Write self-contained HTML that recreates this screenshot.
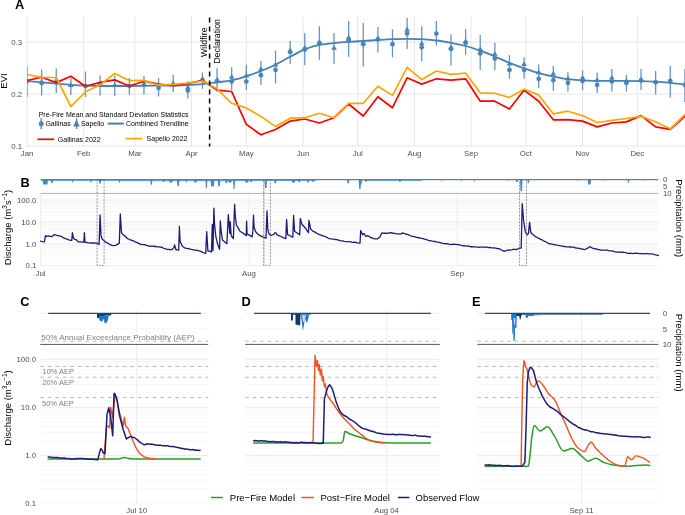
<!DOCTYPE html>
<html><head><meta charset="utf-8"><style>
html,body{margin:0;padding:0;background:#fff;}
svg{display:block;font-family:"Liberation Sans", sans-serif;will-change:transform;}
</style></head><body>
<svg width="685" height="515" viewBox="0 0 685 515">
<defs><clipPath id="clipA"><rect x="27" y="16" width="658" height="131"/></clipPath></defs>
<rect width="685" height="515" fill="#fff"/>
<line x1="27.00" y1="146.00" x2="685.00" y2="146.00" stroke="#e6e6e6" stroke-width="1.0" />
<line x1="27.00" y1="94.00" x2="685.00" y2="94.00" stroke="#e6e6e6" stroke-width="1.0" />
<line x1="27.00" y1="42.00" x2="685.00" y2="42.00" stroke="#e6e6e6" stroke-width="1.0" />
<line x1="27.10" y1="16.30" x2="27.10" y2="146.50" stroke="#e6e6e6" stroke-width="1.0" />
<line x1="83.74" y1="16.30" x2="83.74" y2="146.50" stroke="#e6e6e6" stroke-width="1.0" />
<line x1="134.89" y1="16.30" x2="134.89" y2="146.50" stroke="#e6e6e6" stroke-width="1.0" />
<line x1="191.53" y1="16.30" x2="191.53" y2="146.50" stroke="#e6e6e6" stroke-width="1.0" />
<line x1="246.34" y1="16.30" x2="246.34" y2="146.50" stroke="#e6e6e6" stroke-width="1.0" />
<line x1="302.98" y1="16.30" x2="302.98" y2="146.50" stroke="#e6e6e6" stroke-width="1.0" />
<line x1="357.79" y1="16.30" x2="357.79" y2="146.50" stroke="#e6e6e6" stroke-width="1.0" />
<line x1="414.42" y1="16.30" x2="414.42" y2="146.50" stroke="#e6e6e6" stroke-width="1.0" />
<line x1="471.06" y1="16.30" x2="471.06" y2="146.50" stroke="#e6e6e6" stroke-width="1.0" />
<line x1="525.87" y1="16.30" x2="525.87" y2="146.50" stroke="#e6e6e6" stroke-width="1.0" />
<line x1="582.51" y1="16.30" x2="582.51" y2="146.50" stroke="#e6e6e6" stroke-width="1.0" />
<line x1="637.32" y1="16.30" x2="637.32" y2="146.50" stroke="#e6e6e6" stroke-width="1.0" />
<text x="27.10" y="156.40" font-size="7.8" fill="#4d4d4d" text-anchor="middle" >Jan</text>
<text x="83.74" y="156.40" font-size="7.8" fill="#4d4d4d" text-anchor="middle" >Feb</text>
<text x="134.89" y="156.40" font-size="7.8" fill="#4d4d4d" text-anchor="middle" >Mar</text>
<text x="191.53" y="156.40" font-size="7.8" fill="#4d4d4d" text-anchor="middle" >Apr</text>
<text x="246.34" y="156.40" font-size="7.8" fill="#4d4d4d" text-anchor="middle" >May</text>
<text x="302.98" y="156.40" font-size="7.8" fill="#4d4d4d" text-anchor="middle" >Jun</text>
<text x="357.79" y="156.40" font-size="7.8" fill="#4d4d4d" text-anchor="middle" >Jul</text>
<text x="414.42" y="156.40" font-size="7.8" fill="#4d4d4d" text-anchor="middle" >Aug</text>
<text x="471.06" y="156.40" font-size="7.8" fill="#4d4d4d" text-anchor="middle" >Sep</text>
<text x="525.87" y="156.40" font-size="7.8" fill="#4d4d4d" text-anchor="middle" >Oct</text>
<text x="582.51" y="156.40" font-size="7.8" fill="#4d4d4d" text-anchor="middle" >Nov</text>
<text x="637.32" y="156.40" font-size="7.8" fill="#4d4d4d" text-anchor="middle" >Dec</text>
<text x="22.20" y="148.80" font-size="7.8" fill="#4d4d4d" text-anchor="end" >0.1</text>
<text x="22.20" y="96.80" font-size="7.8" fill="#4d4d4d" text-anchor="end" >0.2</text>
<text x="22.20" y="44.80" font-size="7.8" fill="#4d4d4d" text-anchor="end" >0.3</text>
<text x="6.70" y="81.00" font-size="9.6" fill="#000" text-anchor="middle" transform="rotate(-90 6.70 81.00)" >EVI</text>
<text x="14.90" y="8.90" font-size="12.8" fill="#000" text-anchor="start" font-weight="bold" >A</text>
<g clip-path="url(#clipA)">
<line x1="27.00" y1="66.00" x2="27.00" y2="97.00" stroke="#4a84b8" stroke-width="1.3" stroke-opacity="0.85"/>
<circle cx="27.00" cy="81.30" r="2.35" fill="#4a84b8"/>
<line x1="41.62" y1="69.50" x2="41.62" y2="95.50" stroke="#4a84b8" stroke-width="1.3" stroke-opacity="0.85"/>
<circle cx="41.62" cy="83.00" r="2.35" fill="#4a84b8"/>
<path d="M41.62,78.90 L44.52,83.50 L38.72,83.50 Z" fill="#4a84b8"/>
<line x1="56.24" y1="68.60" x2="56.24" y2="93.10" stroke="#4a84b8" stroke-width="1.3" stroke-opacity="0.85"/>
<path d="M56.24,77.80 L59.14,82.40 L53.34,82.40 Z" fill="#4a84b8"/>
<line x1="70.86" y1="78.30" x2="70.86" y2="95.00" stroke="#4a84b8" stroke-width="1.3" stroke-opacity="0.85"/>
<path d="M70.86,82.30 L73.76,86.90 L67.96,86.90 Z" fill="#4a84b8"/>
<line x1="85.48" y1="71.50" x2="85.48" y2="97.00" stroke="#4a84b8" stroke-width="1.3" stroke-opacity="0.85"/>
<circle cx="85.48" cy="86.00" r="2.35" fill="#4a84b8"/>
<line x1="100.10" y1="75.50" x2="100.10" y2="95.50" stroke="#4a84b8" stroke-width="1.3" stroke-opacity="0.85"/>
<circle cx="100.10" cy="84.40" r="2.35" fill="#4a84b8"/>
<line x1="114.72" y1="75.50" x2="114.72" y2="95.70" stroke="#4a84b8" stroke-width="1.3" stroke-opacity="0.85"/>
<path d="M114.72,82.30 L117.62,86.90 L111.82,86.90 Z" fill="#4a84b8"/>
<line x1="129.34" y1="78.10" x2="129.34" y2="94.40" stroke="#4a84b8" stroke-width="1.3" stroke-opacity="0.85"/>
<circle cx="129.34" cy="86.00" r="2.35" fill="#4a84b8"/>
<line x1="143.96" y1="76.00" x2="143.96" y2="94.40" stroke="#4a84b8" stroke-width="1.3" stroke-opacity="0.85"/>
<path d="M143.96,81.00 L146.86,85.60 L141.06,85.60 Z" fill="#4a84b8"/>
<line x1="158.58" y1="78.10" x2="158.58" y2="96.50" stroke="#4a84b8" stroke-width="1.3" stroke-opacity="0.85"/>
<circle cx="158.58" cy="87.80" r="2.35" fill="#4a84b8"/>
<line x1="173.20" y1="74.70" x2="173.20" y2="92.30" stroke="#4a84b8" stroke-width="1.3" stroke-opacity="0.85"/>
<path d="M173.20,80.50 L176.10,85.10 L170.30,85.10 Z" fill="#4a84b8"/>
<line x1="187.82" y1="81.20" x2="187.82" y2="98.60" stroke="#4a84b8" stroke-width="1.3" stroke-opacity="0.85"/>
<circle cx="187.82" cy="90.60" r="2.35" fill="#4a84b8"/>
<path d="M187.82,84.60 L190.72,89.20 L184.92,89.20 Z" fill="#4a84b8"/>
<line x1="202.44" y1="72.50" x2="202.44" y2="88.80" stroke="#4a84b8" stroke-width="1.3" stroke-opacity="0.85"/>
<path d="M202.44,75.90 L205.34,80.50 L199.54,80.50 Z" fill="#4a84b8"/>
<line x1="217.06" y1="68.30" x2="217.06" y2="91.50" stroke="#4a84b8" stroke-width="1.3" stroke-opacity="0.85"/>
<circle cx="217.06" cy="81.00" r="2.35" fill="#4a84b8"/>
<path d="M217.06,77.10 L219.96,81.70 L214.16,81.70 Z" fill="#4a84b8"/>
<line x1="231.68" y1="67.30" x2="231.68" y2="90.00" stroke="#4a84b8" stroke-width="1.3" stroke-opacity="0.85"/>
<circle cx="231.68" cy="81.50" r="2.35" fill="#4a84b8"/>
<path d="M231.68,74.10 L234.58,78.70 L228.78,78.70 Z" fill="#4a84b8"/>
<line x1="246.30" y1="64.70" x2="246.30" y2="90.00" stroke="#4a84b8" stroke-width="1.3" stroke-opacity="0.85"/>
<circle cx="246.30" cy="81.50" r="2.35" fill="#4a84b8"/>
<path d="M246.30,72.80 L249.20,77.40 L243.40,77.40 Z" fill="#4a84b8"/>
<line x1="260.92" y1="60.70" x2="260.92" y2="84.90" stroke="#4a84b8" stroke-width="1.3" stroke-opacity="0.85"/>
<circle cx="260.92" cy="75.20" r="2.35" fill="#4a84b8"/>
<path d="M260.92,66.20 L263.82,70.80 L258.02,70.80 Z" fill="#4a84b8"/>
<line x1="275.54" y1="50.70" x2="275.54" y2="83.60" stroke="#4a84b8" stroke-width="1.3" stroke-opacity="0.85"/>
<circle cx="275.54" cy="69.90" r="2.35" fill="#4a84b8"/>
<path d="M275.54,61.80 L278.44,66.40 L272.64,66.40 Z" fill="#4a84b8"/>
<line x1="290.16" y1="41.00" x2="290.16" y2="63.90" stroke="#4a84b8" stroke-width="1.3" stroke-opacity="0.85"/>
<circle cx="290.16" cy="52.00" r="2.35" fill="#4a84b8"/>
<path d="M290.16,47.80 L293.06,52.40 L287.26,52.40 Z" fill="#4a84b8"/>
<line x1="304.78" y1="33.10" x2="304.78" y2="65.20" stroke="#4a84b8" stroke-width="1.3" stroke-opacity="0.85"/>
<circle cx="304.78" cy="49.40" r="2.35" fill="#4a84b8"/>
<path d="M304.78,45.10 L307.68,49.70 L301.88,49.70 Z" fill="#4a84b8"/>
<line x1="319.40" y1="26.30" x2="319.40" y2="59.90" stroke="#4a84b8" stroke-width="1.3" stroke-opacity="0.85"/>
<circle cx="319.40" cy="43.60" r="2.35" fill="#4a84b8"/>
<path d="M319.40,39.10 L322.30,43.70 L316.50,43.70 Z" fill="#4a84b8"/>
<line x1="334.02" y1="33.10" x2="334.02" y2="63.90" stroke="#4a84b8" stroke-width="1.3" stroke-opacity="0.85"/>
<path d="M334.02,45.20 L336.92,49.80 L331.12,49.80 Z" fill="#4a84b8"/>
<line x1="348.64" y1="21.00" x2="348.64" y2="56.80" stroke="#4a84b8" stroke-width="1.3" stroke-opacity="0.85"/>
<circle cx="348.64" cy="40.20" r="2.35" fill="#4a84b8"/>
<path d="M348.64,34.70 L351.54,39.30 L345.74,39.30 Z" fill="#4a84b8"/>
<line x1="363.26" y1="23.10" x2="363.26" y2="66.50" stroke="#4a84b8" stroke-width="1.3" stroke-opacity="0.85"/>
<circle cx="363.26" cy="44.20" r="2.35" fill="#4a84b8"/>
<path d="M363.26,40.10 L366.16,44.70 L360.36,44.70 Z" fill="#4a84b8"/>
<line x1="377.88" y1="27.00" x2="377.88" y2="52.60" stroke="#4a84b8" stroke-width="1.3" stroke-opacity="0.85"/>
<circle cx="377.88" cy="39.50" r="2.35" fill="#4a84b8"/>
<path d="M377.88,35.50 L380.78,40.10 L374.98,40.10 Z" fill="#4a84b8"/>
<line x1="392.50" y1="29.20" x2="392.50" y2="57.30" stroke="#4a84b8" stroke-width="1.3" stroke-opacity="0.85"/>
<circle cx="392.50" cy="44.20" r="2.35" fill="#4a84b8"/>
<line x1="407.12" y1="17.90" x2="407.12" y2="48.90" stroke="#4a84b8" stroke-width="1.3" stroke-opacity="0.85"/>
<circle cx="407.12" cy="33.60" r="2.35" fill="#4a84b8"/>
<path d="M407.12,26.80 L410.02,31.40 L404.22,31.40 Z" fill="#4a84b8"/>
<line x1="421.74" y1="26.30" x2="421.74" y2="61.20" stroke="#4a84b8" stroke-width="1.3" stroke-opacity="0.85"/>
<circle cx="421.74" cy="47.30" r="2.35" fill="#4a84b8"/>
<path d="M421.74,40.70 L424.64,45.30 L418.84,45.30 Z" fill="#4a84b8"/>
<line x1="436.36" y1="21.00" x2="436.36" y2="45.50" stroke="#4a84b8" stroke-width="1.3" stroke-opacity="0.85"/>
<circle cx="436.36" cy="33.60" r="2.35" fill="#4a84b8"/>
<line x1="450.98" y1="34.20" x2="450.98" y2="65.70" stroke="#4a84b8" stroke-width="1.3" stroke-opacity="0.85"/>
<circle cx="450.98" cy="48.90" r="2.35" fill="#4a84b8"/>
<path d="M450.98,44.60 L453.88,49.20 L448.08,49.20 Z" fill="#4a84b8"/>
<line x1="465.60" y1="29.20" x2="465.60" y2="54.70" stroke="#4a84b8" stroke-width="1.3" stroke-opacity="0.85"/>
<circle cx="465.60" cy="42.80" r="2.35" fill="#4a84b8"/>
<path d="M465.60,38.60 L468.50,43.20 L462.70,43.20 Z" fill="#4a84b8"/>
<line x1="480.22" y1="35.00" x2="480.22" y2="69.90" stroke="#4a84b8" stroke-width="1.3" stroke-opacity="0.85"/>
<circle cx="480.22" cy="53.40" r="2.35" fill="#4a84b8"/>
<path d="M480.22,46.50 L483.12,51.10 L477.32,51.10 Z" fill="#4a84b8"/>
<line x1="494.84" y1="42.80" x2="494.84" y2="69.90" stroke="#4a84b8" stroke-width="1.3" stroke-opacity="0.85"/>
<circle cx="494.84" cy="58.60" r="2.35" fill="#4a84b8"/>
<path d="M494.84,51.20 L497.74,55.80 L491.94,55.80 Z" fill="#4a84b8"/>
<line x1="509.46" y1="55.20" x2="509.46" y2="78.80" stroke="#4a84b8" stroke-width="1.3" stroke-opacity="0.85"/>
<circle cx="509.46" cy="69.90" r="2.35" fill="#4a84b8"/>
<path d="M509.46,61.00 L512.36,65.60 L506.56,65.60 Z" fill="#4a84b8"/>
<line x1="524.08" y1="57.30" x2="524.08" y2="78.80" stroke="#4a84b8" stroke-width="1.3" stroke-opacity="0.85"/>
<circle cx="524.08" cy="69.90" r="2.35" fill="#4a84b8"/>
<path d="M524.08,61.50 L526.98,66.10 L521.18,66.10 Z" fill="#4a84b8"/>
<line x1="538.70" y1="64.40" x2="538.70" y2="88.00" stroke="#4a84b8" stroke-width="1.3" stroke-opacity="0.85"/>
<circle cx="538.70" cy="78.80" r="2.35" fill="#4a84b8"/>
<path d="M538.70,69.60 L541.60,74.20 L535.80,74.20 Z" fill="#4a84b8"/>
<line x1="553.32" y1="66.00" x2="553.32" y2="90.70" stroke="#4a84b8" stroke-width="1.3" stroke-opacity="0.85"/>
<circle cx="553.32" cy="80.20" r="2.35" fill="#4a84b8"/>
<path d="M553.32,70.90 L556.22,75.50 L550.42,75.50 Z" fill="#4a84b8"/>
<line x1="567.94" y1="72.30" x2="567.94" y2="91.50" stroke="#4a84b8" stroke-width="1.3" stroke-opacity="0.85"/>
<circle cx="567.94" cy="83.00" r="2.35" fill="#4a84b8"/>
<path d="M567.94,75.90 L570.84,80.50 L565.04,80.50 Z" fill="#4a84b8"/>
<line x1="582.56" y1="70.40" x2="582.56" y2="90.00" stroke="#4a84b8" stroke-width="1.3" stroke-opacity="0.85"/>
<circle cx="582.56" cy="80.90" r="2.35" fill="#4a84b8"/>
<path d="M582.56,74.90 L585.46,79.50 L579.66,79.50 Z" fill="#4a84b8"/>
<line x1="597.18" y1="72.50" x2="597.18" y2="92.80" stroke="#4a84b8" stroke-width="1.3" stroke-opacity="0.85"/>
<circle cx="597.18" cy="84.90" r="2.35" fill="#4a84b8"/>
<path d="M597.18,77.10 L600.08,81.70 L594.28,81.70 Z" fill="#4a84b8"/>
<line x1="611.80" y1="69.10" x2="611.80" y2="91.50" stroke="#4a84b8" stroke-width="1.3" stroke-opacity="0.85"/>
<circle cx="611.80" cy="81.50" r="2.35" fill="#4a84b8"/>
<path d="M611.80,74.90 L614.70,79.50 L608.90,79.50 Z" fill="#4a84b8"/>
<line x1="626.42" y1="74.90" x2="626.42" y2="91.50" stroke="#4a84b8" stroke-width="1.3" stroke-opacity="0.85"/>
<circle cx="626.42" cy="83.00" r="2.35" fill="#4a84b8"/>
<path d="M626.42,78.10 L629.32,82.70 L623.52,82.70 Z" fill="#4a84b8"/>
<line x1="641.04" y1="69.10" x2="641.04" y2="90.00" stroke="#4a84b8" stroke-width="1.3" stroke-opacity="0.85"/>
<circle cx="641.04" cy="80.40" r="2.35" fill="#4a84b8"/>
<path d="M641.04,76.70 L643.94,81.30 L638.14,81.30 Z" fill="#4a84b8"/>
<line x1="655.66" y1="71.00" x2="655.66" y2="94.60" stroke="#4a84b8" stroke-width="1.3" stroke-opacity="0.85"/>
<circle cx="655.66" cy="82.30" r="2.35" fill="#4a84b8"/>
<path d="M655.66,78.60 L658.56,83.20 L652.76,83.20 Z" fill="#4a84b8"/>
<line x1="670.28" y1="66.00" x2="670.28" y2="97.50" stroke="#4a84b8" stroke-width="1.3" stroke-opacity="0.85"/>
<circle cx="670.28" cy="80.90" r="2.35" fill="#4a84b8"/>
<line x1="684.90" y1="69.10" x2="684.90" y2="102.00" stroke="#4a84b8" stroke-width="1.3" stroke-opacity="0.85"/>
<circle cx="684.90" cy="84.90" r="2.35" fill="#4a84b8"/>
<path d="M27.00,80.90 C31.87,81.37 36.75,81.85 41.62,82.30 C46.49,82.75 51.37,83.18 56.24,83.60 C61.11,84.02 65.99,84.48 70.86,84.80 C75.73,85.12 80.61,85.42 85.48,85.60 C90.35,85.78 95.23,86.00 100.10,86.00 C104.97,86.00 109.85,86.00 114.72,86.00 C119.59,86.00 124.47,86.00 129.34,86.00 C134.21,86.00 139.09,85.87 143.96,85.80 C148.83,85.73 153.71,85.64 158.58,85.60 C163.45,85.56 168.33,85.56 173.20,85.50 C178.07,85.44 182.95,85.21 187.82,85.00 C192.69,84.79 197.57,84.50 202.44,84.10 C207.31,83.70 212.19,82.92 217.06,82.30 C221.93,81.68 226.81,81.27 231.68,80.40 C236.55,79.53 241.43,77.75 246.30,76.20 C251.17,74.65 256.05,72.90 260.92,71.00 C265.79,69.10 270.67,67.04 275.54,64.70 C280.41,62.36 285.29,59.35 290.16,56.80 C295.03,54.25 299.91,51.27 304.78,49.40 C309.65,47.53 314.53,45.76 319.40,44.90 C324.27,44.04 329.15,43.58 334.02,43.10 C338.89,42.62 343.77,42.24 348.64,41.90 C353.51,41.56 358.39,41.32 363.26,41.00 C368.13,40.68 373.01,40.30 377.88,40.00 C382.75,39.70 387.63,39.35 392.50,39.20 C397.37,39.05 402.25,38.90 407.12,38.90 C411.99,38.90 416.87,39.04 421.74,39.20 C426.61,39.36 431.49,39.95 436.36,40.50 C441.23,41.05 446.11,41.91 450.98,42.80 C455.85,43.69 460.73,44.73 465.60,46.00 C470.47,47.27 475.35,48.97 480.22,50.70 C485.09,52.43 489.97,54.47 494.84,56.50 C499.71,58.53 504.59,60.95 509.46,62.90 C514.33,64.85 519.21,66.61 524.08,68.30 C528.95,69.99 533.83,71.77 538.70,73.10 C543.57,74.43 548.45,75.52 553.32,76.50 C558.19,77.48 563.07,78.52 567.94,79.10 C572.81,79.68 577.69,80.16 582.56,80.40 C587.43,80.64 592.31,80.90 597.18,80.90 C602.05,80.90 606.93,80.90 611.80,80.90 C616.67,80.90 621.55,80.90 626.42,80.90 C631.29,80.90 636.17,81.08 641.04,81.20 C645.91,81.33 650.79,81.47 655.66,81.70 C660.53,81.93 665.41,82.37 670.28,82.80 C675.15,83.23 680.03,83.87 684.90,84.40" fill="none" stroke="#4682b4" stroke-width="1.8" stroke-linejoin="round" stroke-linecap="round" />
<polyline points="27.00,80.50 41.62,77.20 56.24,82.60 70.86,76.30 85.48,86.30 100.10,82.40 114.72,79.90 129.34,86.00 143.96,81.20 158.58,84.10 173.20,85.70 187.82,83.50 202.44,80.30 217.06,90.10 231.68,91.50 246.30,124.30 260.92,134.80 275.54,129.50 290.16,121.10 304.78,119.00 319.40,123.00 334.02,117.70 348.64,104.00 363.26,116.00 377.88,96.70 392.50,107.70 407.12,77.80 421.74,84.10 436.36,78.80 450.98,80.20 465.60,78.80 480.22,101.20 494.84,101.20 509.46,109.00 524.08,90.10 538.70,101.20 553.32,119.80 567.94,119.60 582.56,121.10 597.18,126.90 611.80,123.00 626.42,121.90 641.04,115.60 655.66,126.90 670.28,129.30 684.90,116.30" fill="none" stroke="#ff0000" stroke-width="1.7" stroke-linejoin="round" stroke-linecap="round" />
<polyline points="27.00,74.50 41.62,77.40 56.24,77.50 70.86,106.50 85.48,91.80 100.10,85.00 114.72,73.40 129.34,80.50 143.96,80.40 158.58,85.20 173.20,84.40 187.82,83.00 202.44,81.00 217.06,88.80 231.68,103.30 246.30,108.00 260.92,116.40 275.54,126.40 290.16,118.20 304.78,117.70 319.40,113.30 334.02,117.70 348.64,103.30 363.26,103.30 377.88,86.20 392.50,95.40 407.12,67.30 421.74,79.60 436.36,71.00 450.98,74.40 465.60,73.10 480.22,92.80 494.84,93.30 509.46,97.50 524.08,89.30 538.70,94.90 553.32,113.80 567.94,111.20 582.56,115.60 597.18,122.50 611.80,120.40 626.42,118.50 641.04,116.40 655.66,121.70 670.28,128.80 684.90,114.70" fill="none" stroke="#ffa500" stroke-width="1.7" stroke-linejoin="round" stroke-linecap="round" />
</g>
<line x1="209.60" y1="17.60" x2="209.60" y2="146.50" stroke="#000" stroke-width="1.5" stroke-dasharray="5,4"/>
<text x="206.60" y="42.20" font-size="8.9" fill="#000" text-anchor="middle" transform="rotate(-90 206.60 42.20)" >Wildfire</text>
<text x="219.60" y="41.40" font-size="8.9" fill="#000" text-anchor="middle" transform="rotate(-90 219.60 41.40)" >Declaration</text>
<text x="38.70" y="116.80" font-size="7.0" fill="#000" text-anchor="start" >Pre-Fire Mean and Standard Deviation Statistics</text>
<line x1="41.20" y1="118.30" x2="41.20" y2="129.00" stroke="#4a84b8" stroke-width="1.3" />
<circle cx="41.2" cy="123.7" r="2.5" fill="#4a84b8"/>
<text x="45.40" y="126.00" font-size="7.0" fill="#000" text-anchor="start" >Gallinas</text>
<line x1="76.60" y1="118.30" x2="76.60" y2="129.00" stroke="#4a84b8" stroke-width="1.3" />
<path d="M76.5,119.3 L79.8,126.6 L73.2,126.6 Z" fill="#4a84b8"/>
<text x="80.90" y="126.00" font-size="7.0" fill="#000" text-anchor="start" >Sapello</text>
<line x1="107.70" y1="123.60" x2="123.80" y2="123.60" stroke="#4682b4" stroke-width="2.0" />
<text x="126.00" y="126.00" font-size="7.0" fill="#000" text-anchor="start" >Combined Trendline</text>
<line x1="37.40" y1="139.30" x2="54.00" y2="139.30" stroke="#ff0000" stroke-width="1.7" />
<text x="57.80" y="142.10" font-size="7.0" fill="#000" text-anchor="start" >Gallinas 2022</text>
<line x1="125.50" y1="138.60" x2="142.40" y2="138.60" stroke="#ffa500" stroke-width="1.7" />
<text x="146.60" y="140.90" font-size="7.0" fill="#000" text-anchor="start" >Sapello 2022</text>
<line x1="40.60" y1="265.65" x2="658.40" y2="265.65" stroke="#ebebeb" stroke-width="0.9" />
<line x1="40.60" y1="259.07" x2="658.40" y2="259.07" stroke="#f2f2f2" stroke-width="0.6" />
<line x1="40.60" y1="255.22" x2="658.40" y2="255.22" stroke="#f2f2f2" stroke-width="0.6" />
<line x1="40.60" y1="252.49" x2="658.40" y2="252.49" stroke="#f2f2f2" stroke-width="0.6" />
<line x1="40.60" y1="250.38" x2="658.40" y2="250.38" stroke="#f2f2f2" stroke-width="0.6" />
<line x1="40.60" y1="248.65" x2="658.40" y2="248.65" stroke="#f2f2f2" stroke-width="0.6" />
<line x1="40.60" y1="247.18" x2="658.40" y2="247.18" stroke="#f2f2f2" stroke-width="0.6" />
<line x1="40.60" y1="245.92" x2="658.40" y2="245.92" stroke="#f2f2f2" stroke-width="0.6" />
<line x1="40.60" y1="244.80" x2="658.40" y2="244.80" stroke="#f2f2f2" stroke-width="0.6" />
<line x1="40.60" y1="243.80" x2="658.40" y2="243.80" stroke="#ebebeb" stroke-width="0.9" />
<line x1="40.60" y1="237.22" x2="658.40" y2="237.22" stroke="#f2f2f2" stroke-width="0.6" />
<line x1="40.60" y1="233.37" x2="658.40" y2="233.37" stroke="#f2f2f2" stroke-width="0.6" />
<line x1="40.60" y1="230.64" x2="658.40" y2="230.64" stroke="#f2f2f2" stroke-width="0.6" />
<line x1="40.60" y1="228.53" x2="658.40" y2="228.53" stroke="#f2f2f2" stroke-width="0.6" />
<line x1="40.60" y1="226.80" x2="658.40" y2="226.80" stroke="#f2f2f2" stroke-width="0.6" />
<line x1="40.60" y1="225.33" x2="658.40" y2="225.33" stroke="#f2f2f2" stroke-width="0.6" />
<line x1="40.60" y1="224.07" x2="658.40" y2="224.07" stroke="#f2f2f2" stroke-width="0.6" />
<line x1="40.60" y1="222.95" x2="658.40" y2="222.95" stroke="#f2f2f2" stroke-width="0.6" />
<line x1="40.60" y1="221.95" x2="658.40" y2="221.95" stroke="#ebebeb" stroke-width="0.9" />
<line x1="40.60" y1="215.37" x2="658.40" y2="215.37" stroke="#f2f2f2" stroke-width="0.6" />
<line x1="40.60" y1="211.52" x2="658.40" y2="211.52" stroke="#f2f2f2" stroke-width="0.6" />
<line x1="40.60" y1="208.79" x2="658.40" y2="208.79" stroke="#f2f2f2" stroke-width="0.6" />
<line x1="40.60" y1="206.68" x2="658.40" y2="206.68" stroke="#f2f2f2" stroke-width="0.6" />
<line x1="40.60" y1="204.95" x2="658.40" y2="204.95" stroke="#f2f2f2" stroke-width="0.6" />
<line x1="40.60" y1="203.48" x2="658.40" y2="203.48" stroke="#f2f2f2" stroke-width="0.6" />
<line x1="40.60" y1="202.22" x2="658.40" y2="202.22" stroke="#f2f2f2" stroke-width="0.6" />
<line x1="40.60" y1="201.10" x2="658.40" y2="201.10" stroke="#f2f2f2" stroke-width="0.6" />
<line x1="40.60" y1="200.10" x2="658.40" y2="200.10" stroke="#ebebeb" stroke-width="0.9" />
<line x1="40.60" y1="193.50" x2="40.60" y2="266.20" stroke="#ebebeb" stroke-width="0.9" />
<line x1="248.92" y1="193.50" x2="248.92" y2="266.20" stroke="#ebebeb" stroke-width="0.9" />
<line x1="457.24" y1="193.50" x2="457.24" y2="266.20" stroke="#ebebeb" stroke-width="0.9" />
<line x1="40.60" y1="186.50" x2="658.40" y2="186.50" stroke="#f0f0f0" stroke-width="0.6" />
<line x1="40.60" y1="193.40" x2="658.40" y2="193.40" stroke="#b3b3b3" stroke-width="1.0" />
<text x="40.60" y="275.60" font-size="7.8" fill="#4d4d4d" text-anchor="middle" >Jul</text>
<text x="248.92" y="275.60" font-size="7.8" fill="#4d4d4d" text-anchor="middle" >Aug</text>
<text x="457.24" y="275.60" font-size="7.8" fill="#4d4d4d" text-anchor="middle" >Sep</text>
<text x="36.40" y="202.90" font-size="7.8" fill="#4d4d4d" text-anchor="end" >100.0</text>
<text x="36.40" y="224.75" font-size="7.8" fill="#4d4d4d" text-anchor="end" >10.0</text>
<text x="36.40" y="246.60" font-size="7.8" fill="#4d4d4d" text-anchor="end" >1.0</text>
<text x="36.40" y="268.45" font-size="7.8" fill="#4d4d4d" text-anchor="end" >0.1</text>
<text x="663.00" y="182.30" font-size="7.8" fill="#4d4d4d" text-anchor="start" >0</text>
<text x="663.00" y="189.00" font-size="7.8" fill="#4d4d4d" text-anchor="start" >5</text>
<text x="663.00" y="196.20" font-size="7.8" fill="#4d4d4d" text-anchor="start" >10</text>
<text x="20.60" y="187.40" font-size="12.8" fill="#000" text-anchor="start" font-weight="bold" >B</text>
<rect x="41" y="179.6" width="79" height="1.30" fill="#4a86c0" opacity="0.75"/>
<rect x="120" y="179.6" width="116" height="1.60" fill="#4a86c0" opacity="0.75"/>
<rect x="236" y="179.6" width="80" height="1.40" fill="#4a86c0" opacity="0.75"/>
<rect x="364" y="179.6" width="58" height="1.30" fill="#4a86c0" opacity="0.75"/>
<path d="M42.60,179.6 L43.10,184.50 L47.50,184.50 L48.00,179.6 Z" fill="#4a86c0"/>
<path d="M50.60,179.6 L51.10,183.00 L52.60,183.00 L53.10,179.6 Z" fill="#4a86c0"/>
<path d="M71.80,179.6 L72.30,182.60 L73.00,182.60 L73.50,179.6 Z" fill="#4a86c0"/>
<path d="M89.80,179.6 L90.30,182.60 L91.30,182.60 L91.80,179.6 Z" fill="#4a86c0"/>
<path d="M98.80,179.6 L99.30,183.60 L100.80,183.60 L101.30,179.6 Z" fill="#4a86c0"/>
<path d="M118.50,179.6 L119.00,182.60 L120.00,182.60 L120.50,179.6 Z" fill="#4a86c0"/>
<path d="M150.30,179.6 L150.80,184.80 L151.90,184.80 L152.40,179.6 Z" fill="#4a86c0"/>
<path d="M162.30,179.6 L162.80,182.00 L164.30,182.00 L164.80,179.6 Z" fill="#4a86c0"/>
<path d="M168.90,179.6 L169.40,182.60 L172.30,182.60 L172.80,179.6 Z" fill="#4a86c0"/>
<path d="M176.90,179.6 L177.40,185.90 L178.90,185.90 L179.40,179.6 Z" fill="#4a86c0"/>
<path d="M185.70,179.6 L186.20,182.60 L186.80,182.60 L187.30,179.6 Z" fill="#4a86c0"/>
<path d="M193.70,179.6 L194.20,182.60 L196.40,182.60 L196.90,179.6 Z" fill="#4a86c0"/>
<path d="M205.40,179.6 L205.90,188.00 L206.90,188.00 L207.40,179.6 Z" fill="#4a86c0"/>
<path d="M210.50,179.6 L211.00,186.20 L213.90,186.20 L214.40,179.6 Z" fill="#4a86c0"/>
<path d="M217.80,179.6 L218.30,186.20 L219.80,186.20 L220.30,179.6 Z" fill="#4a86c0"/>
<path d="M225.10,179.6 L225.60,183.30 L227.00,183.30 L227.50,179.6 Z" fill="#4a86c0"/>
<path d="M228.00,179.6 L228.50,182.60 L231.40,182.60 L231.90,179.6 Z" fill="#4a86c0"/>
<path d="M233.10,179.6 L233.60,189.10 L234.60,189.10 L235.10,179.6 Z" fill="#4a86c0"/>
<path d="M244.80,179.6 L245.30,182.60 L248.20,182.60 L248.70,179.6 Z" fill="#4a86c0"/>
<path d="M249.90,179.6 L250.40,182.00 L251.90,182.00 L252.40,179.6 Z" fill="#4a86c0"/>
<path d="M264.50,179.6 L265.00,188.00 L266.50,188.00 L267.00,179.6 Z" fill="#4a86c0"/>
<path d="M274.00,179.6 L274.50,183.30 L276.00,183.30 L276.50,179.6 Z" fill="#4a86c0"/>
<path d="M291.50,179.6 L292.00,182.60 L295.00,182.60 L295.50,179.6 Z" fill="#4a86c0"/>
<path d="M298.10,179.6 L298.60,182.20 L300.00,182.20 L300.50,179.6 Z" fill="#4a86c0"/>
<path d="M306.80,179.6 L307.30,182.60 L308.80,182.60 L309.30,179.6 Z" fill="#4a86c0"/>
<path d="M312.00,179.6 L312.50,182.00 L313.60,182.00 L314.10,179.6 Z" fill="#4a86c0"/>
<path d="M347.00,179.6 L347.50,183.30 L349.00,183.30 L349.50,179.6 Z" fill="#4a86c0"/>
<path d="M358.70,179.6 L359.20,189.10 L360.60,189.10 L361.10,179.6 Z" fill="#4a86c0"/>
<path d="M360.90,179.6 L361.40,184.50 L361.80,184.50 L362.30,179.6 Z" fill="#4a86c0"/>
<path d="M364.50,179.6 L365.00,181.50 L367.20,181.50 L367.70,179.6 Z" fill="#4a86c0"/>
<path d="M398.80,179.6 L399.30,182.10 L400.50,182.10 L401.00,179.6 Z" fill="#4a86c0"/>
<path d="M441.10,179.6 L441.60,181.20 L442.00,181.20 L442.50,179.6 Z" fill="#4a86c0"/>
<path d="M460.90,179.6 L461.40,180.90 L461.80,180.90 L462.30,179.6 Z" fill="#4a86c0"/>
<path d="M473.70,179.6 L474.20,181.50 L474.60,181.50 L475.10,179.6 Z" fill="#4a86c0"/>
<path d="M507.50,179.6 L508.00,180.80 L508.40,180.80 L508.90,179.6 Z" fill="#4a86c0"/>
<path d="M515.60,179.6 L516.10,182.10 L517.60,182.10 L518.10,179.6 Z" fill="#4a86c0"/>
<path d="M520.00,179.6 L520.50,191.30 L522.00,191.30 L522.50,179.6 Z" fill="#4a86c0"/>
<path d="M527.30,179.6 L527.80,183.30 L528.80,183.30 L529.30,179.6 Z" fill="#4a86c0"/>
<path d="M577.00,179.6 L577.50,181.00 L578.00,181.00 L578.50,179.6 Z" fill="#4a86c0"/>
<path d="M587.70,179.6 L588.20,184.50 L590.60,184.50 L591.10,179.6 Z" fill="#4a86c0"/>
<path d="M604.30,179.6 L604.80,180.80 L605.20,180.80 L605.70,179.6 Z" fill="#4a86c0"/>
<path d="M627.50,179.6 L628.00,182.80 L628.80,182.80 L629.30,179.6 Z" fill="#4a86c0"/>
<path d="M642.50,179.6 L643.00,180.80 L643.40,180.80 L643.90,179.6 Z" fill="#4a86c0"/>
<line x1="40.60" y1="179.60" x2="658.40" y2="179.60" stroke="#4a86c0" stroke-width="1.4" />
<polyline points="40.60,241.20 42.50,241.59 44.40,241.91 45.50,235.62 46.60,236.48 48.80,235.83 50.25,236.36 51.70,236.70 53.90,234.67 55.35,234.86 56.80,235.40 58.50,235.71 60.20,236.10 61.90,236.73 63.37,237.82 64.83,238.32 66.30,238.97 67.67,239.44 69.05,240.02 70.42,240.23 71.80,240.34 72.40,232.73 73.60,238.51 75.05,239.47 76.50,239.97 78.20,241.95 79.60,241.81 81.00,241.84 82.40,242.19 83.80,241.99 84.40,232.63 85.00,242.24 86.53,242.48 88.07,242.86 89.60,242.92 91.10,243.00 92.60,243.24 94.30,242.84 96.00,243.21 97.70,243.50 99.10,244.33 100.10,214.83 101.00,235.53 102.00,238.69 103.85,240.58 105.70,242.14 107.17,242.95 108.63,243.69 110.10,244.65 111.90,245.30 113.70,245.64 115.55,245.33 117.40,244.36 119.30,243.12 120.30,213.92 121.50,232.55 123.20,234.80 124.67,235.78 126.13,237.26 127.60,238.71 129.05,239.26 130.50,240.01 131.95,240.31 133.40,240.96 134.72,241.54 136.04,242.11 137.36,242.60 138.68,243.37 140.00,244.14 141.46,244.29 142.92,244.63 144.38,244.59 145.84,245.11 147.30,245.52 148.76,245.99 150.22,246.24 151.68,246.13 153.14,246.20 154.60,246.51 156.06,246.44 157.52,246.79 158.98,246.93 160.44,247.09 161.90,247.26 163.60,248.28 165.30,248.74 167.00,249.34 168.70,249.41 170.40,249.77 172.10,249.47 173.90,247.63 174.60,244.83 175.80,249.50 177.25,249.83 178.70,250.13 179.40,226.52 180.10,241.32 182.30,246.32 183.77,247.23 185.23,248.08 186.70,248.32 188.17,248.57 189.63,248.95 191.10,249.36 192.57,249.68 194.03,250.03 195.50,250.10 196.95,250.24 198.40,250.74 199.85,251.15 201.30,251.68 202.77,252.48 204.23,252.99 205.70,253.36 206.70,231.57 207.90,251.02 209.70,251.14 211.50,251.96 212.30,224.38 213.00,250.41 213.90,208.03 214.60,225.19 215.90,236.95 217.50,243.78 219.60,249.25 220.30,220.79 221.20,231.54 222.50,240.04 223.97,241.24 225.43,242.57 226.90,243.67 228.30,214.56 229.80,233.40 230.20,221.68 231.20,235.74 233.40,238.52 234.60,204.39 235.40,217.01 236.40,224.98 238.20,228.06 240.00,231.23 241.50,232.25 243.00,233.11 244.60,234.44 246.20,235.71 246.60,221.06 247.10,234.19 249.30,235.19 250.70,235.92 252.10,236.87 252.90,230.65 253.50,215.20 254.10,227.58 255.70,231.77 257.55,233.83 259.40,235.43 261.30,236.09 263.20,237.10 264.60,237.49 266.00,238.30 267.00,210.99 267.80,229.34 268.90,233.83 270.80,235.45 272.35,234.99 273.90,234.45 274.60,232.83 275.80,232.84 277.10,234.90 278.55,235.46 280.00,236.03 281.45,236.80 282.90,237.57 284.35,238.15 285.80,238.66 286.60,219.48 287.60,234.74 289.33,235.36 291.07,236.30 292.80,237.15 293.60,215.47 294.60,231.30 296.30,232.42 298.00,233.51 299.70,234.87 300.30,218.42 301.90,224.20 303.70,226.24 305.50,228.21 307.00,230.65 308.50,232.67 308.90,220.39 310.70,229.02 312.80,231.10 314.53,231.86 316.27,232.92 318.00,234.07 319.45,234.69 320.90,235.03 322.35,235.53 323.80,236.11 325.27,236.46 326.73,237.32 328.20,238.30 329.66,238.64 331.12,238.94 332.58,239.05 334.04,239.04 335.50,239.54 336.96,239.68 338.42,240.18 339.88,240.71 341.34,240.78 342.80,240.94 344.26,241.43 345.72,241.67 347.18,241.55 348.64,241.53 350.10,241.63 351.55,242.11 353.00,242.37 354.45,242.13 355.90,242.45 357.27,242.97 358.63,243.17 360.00,243.21 360.70,230.50 362.50,234.82 363.90,233.48 366.10,236.55 367.60,235.43 369.05,236.34 370.50,237.53 371.82,237.74 373.14,238.29 374.46,238.75 375.78,238.78 377.10,238.98 378.55,237.94 380.00,236.91 381.80,232.98 383.20,233.04 384.60,233.25 386.00,233.25 387.53,233.32 389.07,232.87 390.60,232.54 391.94,232.82 393.28,233.27 394.61,233.31 395.95,233.73 397.29,233.80 398.62,233.94 399.96,234.10 401.30,233.95 401.90,233.01 403.25,233.27 404.60,233.46 405.95,234.24 407.30,234.46 408.65,234.93 410.00,235.53 411.90,236.11 413.80,236.52 415.13,236.88 416.45,237.25 417.78,237.75 419.11,237.74 420.44,238.15 421.76,238.32 423.09,238.57 424.42,239.17 425.75,239.48 427.07,239.83 428.40,240.30 429.73,240.75 431.05,240.82 432.38,241.08 433.71,241.27 435.04,241.50 436.36,241.85 437.69,242.02 439.02,242.27 440.35,242.50 441.67,243.03 443.00,243.31 444.33,243.61 445.65,243.90 446.98,243.71 448.31,243.87 449.64,244.28 450.96,244.53 452.29,244.30 453.62,244.23 454.95,244.47 456.27,244.44 457.60,244.61 458.93,244.63 460.25,245.08 461.58,245.47 462.91,245.84 464.24,245.64 465.56,245.93 466.89,246.12 468.22,245.96 469.55,246.40 470.87,246.76 472.20,246.56 473.53,246.91 474.85,246.79 476.18,246.82 477.51,247.18 478.84,247.34 480.16,247.03 481.49,247.05 482.82,247.15 484.15,247.13 485.47,247.06 486.80,247.13 488.26,247.55 489.73,247.43 491.19,247.77 492.65,247.97 494.11,247.89 495.57,248.11 497.04,248.50 498.50,248.73 499.95,249.01 501.40,249.97 502.85,250.63 504.30,251.36 505.76,250.73 507.23,250.39 508.69,249.96 510.15,250.10 511.61,249.79 513.08,249.43 514.54,249.33 516.00,249.51 517.45,249.07 518.90,248.21 521.20,248.08 522.20,203.54 523.60,220.73 525.30,231.60 527.20,234.86 528.40,233.63 529.60,222.40 530.80,232.49 533.20,234.66 534.73,235.98 536.25,236.93 537.77,237.97 539.30,238.50 540.67,239.47 542.04,239.82 543.41,240.83 544.79,241.45 546.16,242.02 547.53,242.79 548.90,243.77 550.27,243.85 551.64,243.96 553.01,244.41 554.39,244.63 555.76,244.82 557.13,245.10 558.50,245.34 559.89,245.54 561.27,245.81 562.66,246.03 564.04,246.52 565.43,246.58 566.81,246.82 568.20,246.83 569.57,247.01 570.94,246.98 572.31,247.18 573.69,247.21 575.06,247.76 576.43,248.04 577.80,248.05 579.24,248.37 580.68,248.96 582.12,248.88 583.56,249.38 585.00,249.53 586.60,248.55 588.20,247.79 589.80,246.66 592.30,248.04 593.67,248.43 595.04,248.97 596.41,248.99 597.79,249.44 599.16,249.74 600.53,249.99 601.90,250.10 603.21,250.14 604.52,250.04 605.83,250.10 607.14,250.16 608.45,250.70 609.75,250.78 611.06,250.84 612.37,250.90 613.68,251.48 614.99,251.92 616.30,252.12 617.64,252.03 618.99,252.00 620.33,252.07 621.68,252.27 623.02,252.25 624.37,252.47 625.71,252.55 627.06,253.09 628.40,253.48 629.73,253.43 631.07,253.25 632.40,253.63 633.73,253.46 635.07,253.43 636.40,253.21 637.73,253.36 639.07,253.53 640.40,253.69 641.79,253.61 643.17,253.79 644.56,253.61 645.94,253.69 647.33,253.66 648.71,253.86 650.10,253.79 651.47,253.89 652.83,254.21 654.20,254.43 655.57,254.87 656.93,255.18 658.30,255.50" fill="none" stroke="#1c1c78" stroke-width="1.3" stroke-linejoin="round" stroke-linecap="round" />
<rect x="97.1" y="179.6" width="7.00" height="85.8" fill="none" stroke="#606060" stroke-width="0.6" stroke-dasharray="2.2,1.1"/>
<rect x="263.6" y="179.6" width="6.80" height="85.8" fill="none" stroke="#606060" stroke-width="0.6" stroke-dasharray="2.2,1.1"/>
<line x1="264.30" y1="179.60" x2="264.30" y2="265.40" stroke="#aaa" stroke-width="0.6" stroke-dasharray="2.2,1.1" stroke-dashoffset="1"/>
<rect x="519.5" y="179.6" width="7.00" height="85.8" fill="none" stroke="#606060" stroke-width="0.6" stroke-dasharray="2.2,1.1"/>
<text x="10.60" y="227.50" font-size="9.5" fill="#000" text-anchor="middle" transform="rotate(-90 10.60 227.50)" >Discharge (m<tspan font-size="6.5" dy="-3.2">3</tspan><tspan dy="3.2">s</tspan><tspan font-size="6.5" dy="-3.2">−1</tspan><tspan dy="3.2">)</tspan></text>
<text x="675.60" y="218.30" font-size="9.6" fill="#000" text-anchor="middle" transform="rotate(90 675.60 218.30)" >Precipitation (mm)</text>
<line x1="40.30" y1="502.90" x2="208.20" y2="502.90" stroke="#f3f3f3" stroke-width="0.8" />
<line x1="40.30" y1="488.63" x2="208.20" y2="488.63" stroke="#f2f2f2" stroke-width="0.6" />
<line x1="40.30" y1="480.28" x2="208.20" y2="480.28" stroke="#f2f2f2" stroke-width="0.6" />
<line x1="40.30" y1="474.36" x2="208.20" y2="474.36" stroke="#f2f2f2" stroke-width="0.6" />
<line x1="40.30" y1="469.77" x2="208.20" y2="469.77" stroke="#f2f2f2" stroke-width="0.6" />
<line x1="40.30" y1="466.02" x2="208.20" y2="466.02" stroke="#f2f2f2" stroke-width="0.6" />
<line x1="40.30" y1="462.84" x2="208.20" y2="462.84" stroke="#f2f2f2" stroke-width="0.6" />
<line x1="40.30" y1="460.09" x2="208.20" y2="460.09" stroke="#f2f2f2" stroke-width="0.6" />
<line x1="40.30" y1="457.67" x2="208.20" y2="457.67" stroke="#f2f2f2" stroke-width="0.6" />
<line x1="40.30" y1="455.50" x2="208.20" y2="455.50" stroke="#ebebeb" stroke-width="0.9" />
<line x1="40.30" y1="441.02" x2="208.20" y2="441.02" stroke="#f2f2f2" stroke-width="0.6" />
<line x1="40.30" y1="432.55" x2="208.20" y2="432.55" stroke="#f2f2f2" stroke-width="0.6" />
<line x1="40.30" y1="426.54" x2="208.20" y2="426.54" stroke="#f2f2f2" stroke-width="0.6" />
<line x1="40.30" y1="421.88" x2="208.20" y2="421.88" stroke="#f2f2f2" stroke-width="0.6" />
<line x1="40.30" y1="418.07" x2="208.20" y2="418.07" stroke="#f2f2f2" stroke-width="0.6" />
<line x1="40.30" y1="414.85" x2="208.20" y2="414.85" stroke="#f2f2f2" stroke-width="0.6" />
<line x1="40.30" y1="412.06" x2="208.20" y2="412.06" stroke="#f2f2f2" stroke-width="0.6" />
<line x1="40.30" y1="409.60" x2="208.20" y2="409.60" stroke="#f2f2f2" stroke-width="0.6" />
<line x1="40.30" y1="407.40" x2="208.20" y2="407.40" stroke="#ebebeb" stroke-width="0.9" />
<line x1="40.30" y1="392.92" x2="208.20" y2="392.92" stroke="#f2f2f2" stroke-width="0.6" />
<line x1="40.30" y1="384.45" x2="208.20" y2="384.45" stroke="#f2f2f2" stroke-width="0.6" />
<line x1="40.30" y1="378.44" x2="208.20" y2="378.44" stroke="#f2f2f2" stroke-width="0.6" />
<line x1="40.30" y1="373.78" x2="208.20" y2="373.78" stroke="#f2f2f2" stroke-width="0.6" />
<line x1="40.30" y1="369.97" x2="208.20" y2="369.97" stroke="#f2f2f2" stroke-width="0.6" />
<line x1="40.30" y1="366.75" x2="208.20" y2="366.75" stroke="#f2f2f2" stroke-width="0.6" />
<line x1="40.30" y1="363.96" x2="208.20" y2="363.96" stroke="#f2f2f2" stroke-width="0.6" />
<line x1="40.30" y1="361.50" x2="208.20" y2="361.50" stroke="#f2f2f2" stroke-width="0.6" />
<line x1="40.30" y1="359.30" x2="208.20" y2="359.30" stroke="#ebebeb" stroke-width="0.9" />
<line x1="136.70" y1="310.00" x2="136.70" y2="504.00" stroke="#ebebeb" stroke-width="0.9" />
<line x1="40.30" y1="328.80" x2="208.20" y2="328.80" stroke="#f0f0f0" stroke-width="0.7" />
<line x1="40.30" y1="313.40" x2="208.20" y2="313.40" stroke="#ebebeb" stroke-width="0.8" />
<line x1="40.30" y1="341.20" x2="208.20" y2="341.20" stroke="#b0b0b0" stroke-width="0.9" stroke-dasharray="3.6,3.9"/>
<line x1="40.30" y1="366.40" x2="208.20" y2="366.40" stroke="#b0b0b0" stroke-width="0.9" stroke-dasharray="3.6,3.9"/>
<line x1="40.30" y1="377.20" x2="208.20" y2="377.20" stroke="#b0b0b0" stroke-width="0.9" stroke-dasharray="3.6,3.9"/>
<line x1="40.30" y1="397.60" x2="208.20" y2="397.60" stroke="#b0b0b0" stroke-width="0.9" stroke-dasharray="3.6,3.9"/>
<line x1="40.30" y1="344.40" x2="208.20" y2="344.40" stroke="#555" stroke-width="1.0" />
<text x="136.70" y="513.20" font-size="7.8" fill="#4d4d4d" text-anchor="middle" >Jul 10</text>
<text x="20.30" y="306.40" font-size="12.8" fill="#000" text-anchor="start" font-weight="bold" >C</text>
<line x1="245.20" y1="502.90" x2="439.80" y2="502.90" stroke="#f3f3f3" stroke-width="0.8" />
<line x1="245.20" y1="488.63" x2="439.80" y2="488.63" stroke="#f2f2f2" stroke-width="0.6" />
<line x1="245.20" y1="480.28" x2="439.80" y2="480.28" stroke="#f2f2f2" stroke-width="0.6" />
<line x1="245.20" y1="474.36" x2="439.80" y2="474.36" stroke="#f2f2f2" stroke-width="0.6" />
<line x1="245.20" y1="469.77" x2="439.80" y2="469.77" stroke="#f2f2f2" stroke-width="0.6" />
<line x1="245.20" y1="466.02" x2="439.80" y2="466.02" stroke="#f2f2f2" stroke-width="0.6" />
<line x1="245.20" y1="462.84" x2="439.80" y2="462.84" stroke="#f2f2f2" stroke-width="0.6" />
<line x1="245.20" y1="460.09" x2="439.80" y2="460.09" stroke="#f2f2f2" stroke-width="0.6" />
<line x1="245.20" y1="457.67" x2="439.80" y2="457.67" stroke="#f2f2f2" stroke-width="0.6" />
<line x1="245.20" y1="455.50" x2="439.80" y2="455.50" stroke="#ebebeb" stroke-width="0.9" />
<line x1="245.20" y1="441.02" x2="439.80" y2="441.02" stroke="#f2f2f2" stroke-width="0.6" />
<line x1="245.20" y1="432.55" x2="439.80" y2="432.55" stroke="#f2f2f2" stroke-width="0.6" />
<line x1="245.20" y1="426.54" x2="439.80" y2="426.54" stroke="#f2f2f2" stroke-width="0.6" />
<line x1="245.20" y1="421.88" x2="439.80" y2="421.88" stroke="#f2f2f2" stroke-width="0.6" />
<line x1="245.20" y1="418.07" x2="439.80" y2="418.07" stroke="#f2f2f2" stroke-width="0.6" />
<line x1="245.20" y1="414.85" x2="439.80" y2="414.85" stroke="#f2f2f2" stroke-width="0.6" />
<line x1="245.20" y1="412.06" x2="439.80" y2="412.06" stroke="#f2f2f2" stroke-width="0.6" />
<line x1="245.20" y1="409.60" x2="439.80" y2="409.60" stroke="#f2f2f2" stroke-width="0.6" />
<line x1="245.20" y1="407.40" x2="439.80" y2="407.40" stroke="#ebebeb" stroke-width="0.9" />
<line x1="245.20" y1="392.92" x2="439.80" y2="392.92" stroke="#f2f2f2" stroke-width="0.6" />
<line x1="245.20" y1="384.45" x2="439.80" y2="384.45" stroke="#f2f2f2" stroke-width="0.6" />
<line x1="245.20" y1="378.44" x2="439.80" y2="378.44" stroke="#f2f2f2" stroke-width="0.6" />
<line x1="245.20" y1="373.78" x2="439.80" y2="373.78" stroke="#f2f2f2" stroke-width="0.6" />
<line x1="245.20" y1="369.97" x2="439.80" y2="369.97" stroke="#f2f2f2" stroke-width="0.6" />
<line x1="245.20" y1="366.75" x2="439.80" y2="366.75" stroke="#f2f2f2" stroke-width="0.6" />
<line x1="245.20" y1="363.96" x2="439.80" y2="363.96" stroke="#f2f2f2" stroke-width="0.6" />
<line x1="245.20" y1="361.50" x2="439.80" y2="361.50" stroke="#f2f2f2" stroke-width="0.6" />
<line x1="245.20" y1="359.30" x2="439.80" y2="359.30" stroke="#ebebeb" stroke-width="0.9" />
<line x1="386.60" y1="310.00" x2="386.60" y2="504.00" stroke="#ebebeb" stroke-width="0.9" />
<line x1="245.20" y1="328.80" x2="439.80" y2="328.80" stroke="#f0f0f0" stroke-width="0.7" />
<line x1="245.20" y1="313.40" x2="439.80" y2="313.40" stroke="#ebebeb" stroke-width="0.8" />
<line x1="245.20" y1="341.20" x2="439.80" y2="341.20" stroke="#b0b0b0" stroke-width="0.9" stroke-dasharray="3.6,3.9"/>
<line x1="245.20" y1="366.40" x2="439.80" y2="366.40" stroke="#b0b0b0" stroke-width="0.9" stroke-dasharray="3.6,3.9"/>
<line x1="245.20" y1="377.20" x2="439.80" y2="377.20" stroke="#b0b0b0" stroke-width="0.9" stroke-dasharray="3.6,3.9"/>
<line x1="245.20" y1="397.60" x2="439.80" y2="397.60" stroke="#b0b0b0" stroke-width="0.9" stroke-dasharray="3.6,3.9"/>
<line x1="245.20" y1="344.40" x2="439.80" y2="344.40" stroke="#555" stroke-width="1.0" />
<text x="386.60" y="513.20" font-size="7.8" fill="#4d4d4d" text-anchor="middle" >Aug 04</text>
<text x="241.40" y="306.40" font-size="12.8" fill="#000" text-anchor="start" font-weight="bold" >D</text>
<line x1="477.30" y1="502.90" x2="658.40" y2="502.90" stroke="#f3f3f3" stroke-width="0.8" />
<line x1="477.30" y1="488.63" x2="658.40" y2="488.63" stroke="#f2f2f2" stroke-width="0.6" />
<line x1="477.30" y1="480.28" x2="658.40" y2="480.28" stroke="#f2f2f2" stroke-width="0.6" />
<line x1="477.30" y1="474.36" x2="658.40" y2="474.36" stroke="#f2f2f2" stroke-width="0.6" />
<line x1="477.30" y1="469.77" x2="658.40" y2="469.77" stroke="#f2f2f2" stroke-width="0.6" />
<line x1="477.30" y1="466.02" x2="658.40" y2="466.02" stroke="#f2f2f2" stroke-width="0.6" />
<line x1="477.30" y1="462.84" x2="658.40" y2="462.84" stroke="#f2f2f2" stroke-width="0.6" />
<line x1="477.30" y1="460.09" x2="658.40" y2="460.09" stroke="#f2f2f2" stroke-width="0.6" />
<line x1="477.30" y1="457.67" x2="658.40" y2="457.67" stroke="#f2f2f2" stroke-width="0.6" />
<line x1="477.30" y1="455.50" x2="658.40" y2="455.50" stroke="#ebebeb" stroke-width="0.9" />
<line x1="477.30" y1="441.02" x2="658.40" y2="441.02" stroke="#f2f2f2" stroke-width="0.6" />
<line x1="477.30" y1="432.55" x2="658.40" y2="432.55" stroke="#f2f2f2" stroke-width="0.6" />
<line x1="477.30" y1="426.54" x2="658.40" y2="426.54" stroke="#f2f2f2" stroke-width="0.6" />
<line x1="477.30" y1="421.88" x2="658.40" y2="421.88" stroke="#f2f2f2" stroke-width="0.6" />
<line x1="477.30" y1="418.07" x2="658.40" y2="418.07" stroke="#f2f2f2" stroke-width="0.6" />
<line x1="477.30" y1="414.85" x2="658.40" y2="414.85" stroke="#f2f2f2" stroke-width="0.6" />
<line x1="477.30" y1="412.06" x2="658.40" y2="412.06" stroke="#f2f2f2" stroke-width="0.6" />
<line x1="477.30" y1="409.60" x2="658.40" y2="409.60" stroke="#f2f2f2" stroke-width="0.6" />
<line x1="477.30" y1="407.40" x2="658.40" y2="407.40" stroke="#ebebeb" stroke-width="0.9" />
<line x1="477.30" y1="392.92" x2="658.40" y2="392.92" stroke="#f2f2f2" stroke-width="0.6" />
<line x1="477.30" y1="384.45" x2="658.40" y2="384.45" stroke="#f2f2f2" stroke-width="0.6" />
<line x1="477.30" y1="378.44" x2="658.40" y2="378.44" stroke="#f2f2f2" stroke-width="0.6" />
<line x1="477.30" y1="373.78" x2="658.40" y2="373.78" stroke="#f2f2f2" stroke-width="0.6" />
<line x1="477.30" y1="369.97" x2="658.40" y2="369.97" stroke="#f2f2f2" stroke-width="0.6" />
<line x1="477.30" y1="366.75" x2="658.40" y2="366.75" stroke="#f2f2f2" stroke-width="0.6" />
<line x1="477.30" y1="363.96" x2="658.40" y2="363.96" stroke="#f2f2f2" stroke-width="0.6" />
<line x1="477.30" y1="361.50" x2="658.40" y2="361.50" stroke="#f2f2f2" stroke-width="0.6" />
<line x1="477.30" y1="359.30" x2="658.40" y2="359.30" stroke="#ebebeb" stroke-width="0.9" />
<line x1="581.50" y1="310.00" x2="581.50" y2="504.00" stroke="#ebebeb" stroke-width="0.9" />
<line x1="477.30" y1="328.80" x2="658.40" y2="328.80" stroke="#f0f0f0" stroke-width="0.7" />
<line x1="477.30" y1="313.40" x2="658.40" y2="313.40" stroke="#ebebeb" stroke-width="0.8" />
<line x1="477.30" y1="341.20" x2="658.40" y2="341.20" stroke="#b0b0b0" stroke-width="0.9" stroke-dasharray="3.6,3.9"/>
<line x1="477.30" y1="366.40" x2="658.40" y2="366.40" stroke="#b0b0b0" stroke-width="0.9" stroke-dasharray="3.6,3.9"/>
<line x1="477.30" y1="377.20" x2="658.40" y2="377.20" stroke="#b0b0b0" stroke-width="0.9" stroke-dasharray="3.6,3.9"/>
<line x1="477.30" y1="397.60" x2="658.40" y2="397.60" stroke="#b0b0b0" stroke-width="0.9" stroke-dasharray="3.6,3.9"/>
<line x1="477.30" y1="344.40" x2="658.40" y2="344.40" stroke="#555" stroke-width="1.0" />
<text x="581.50" y="513.20" font-size="7.8" fill="#4d4d4d" text-anchor="middle" >Sep 11</text>
<text x="472.10" y="306.40" font-size="12.8" fill="#000" text-anchor="start" font-weight="bold" >E</text>
<text x="41.20" y="340.20" font-size="7.9" fill="#808080" text-anchor="start" textLength="153.6" lengthAdjust="spacingAndGlyphs" >50% Annual Exceedance Probability (AEP)</text>
<text x="42.50" y="374.10" font-size="7.9" fill="#808080" text-anchor="start" textLength="31.4" lengthAdjust="spacingAndGlyphs" >10% AEP</text>
<text x="42.30" y="385.20" font-size="7.9" fill="#808080" text-anchor="start" textLength="31.6" lengthAdjust="spacingAndGlyphs" >20% AEP</text>
<text x="42.00" y="405.80" font-size="7.9" fill="#808080" text-anchor="start" textLength="31.8" lengthAdjust="spacingAndGlyphs" >50% AEP</text>
<text x="36.00" y="362.10" font-size="7.8" fill="#4d4d4d" text-anchor="end" >100.0</text>
<text x="36.00" y="410.20" font-size="7.8" fill="#4d4d4d" text-anchor="end" >10.0</text>
<text x="36.00" y="458.30" font-size="7.8" fill="#4d4d4d" text-anchor="end" >1.0</text>
<text x="36.00" y="505.70" font-size="7.8" fill="#4d4d4d" text-anchor="end" >0.1</text>
<text x="662.70" y="316.30" font-size="7.8" fill="#4d4d4d" text-anchor="start" >0</text>
<text x="662.70" y="331.70" font-size="7.8" fill="#4d4d4d" text-anchor="start" >5</text>
<text x="662.70" y="347.40" font-size="7.8" fill="#4d4d4d" text-anchor="start" >10</text>
<text x="10.60" y="408.00" font-size="9.5" fill="#000" text-anchor="middle" transform="rotate(-90 10.60 408.00)" >Discharge (m<tspan font-size="6.5" dy="-3.2">3</tspan><tspan dy="3.2">s</tspan><tspan font-size="6.5" dy="-3.2">−1</tspan><tspan dy="3.2">)</tspan></text>
<text x="676.20" y="352.70" font-size="9.6" fill="#000" text-anchor="middle" transform="rotate(90 676.20 352.70)" >Precipitation (mm)</text>
<path d="M97.00,313.40 L97.00,318.00 L99.00,318.00 L99.50,316.00 L104.00,316.00 L106.00,315.60 L111.00,315.60 L111.30,313.40 Z" fill="#0b3a66" opacity="1"/>
<path d="M98.80,315.80 L99.30,320.00 L100.30,321.30 L102.20,321.40 L103.30,319.80 L104.00,318.50 L104.30,322.80 L106.50,323.00 L107.60,321.00 L108.30,318.00 L108.80,315.80 Z" fill="#1f78c1" opacity="1"/>
<line x1="48.20" y1="313.40" x2="200.80" y2="313.40" stroke="#1d4f7c" stroke-width="1.3" />
<path d="M291.00,313.40 L291.00,320.60 L292.90,320.60 L292.90,314.80 L295.50,314.80 L295.50,324.80 L297.60,324.80 L297.60,325.30 L300.20,325.30 L300.50,314.60 L311.00,314.60 L311.00,313.40 Z" fill="#0b3a66" opacity="1"/>
<path d="M300.70,314.50 L301.80,322.00 L302.80,331.10 L303.80,326.00 L304.90,318.00 L305.90,321.00 L307.00,323.20 L308.20,319.00 L309.10,314.50 Z" fill="#1f78c1" opacity="1"/>
<path d="M301.80,315.30 L306.00,315.30 L304.50,320.00 L303.20,322.70 L302.40,318.00 Z" fill="#dcd3ee" opacity="1"/>
<line x1="254.00" y1="313.40" x2="430.90" y2="313.40" stroke="#1d4f7c" stroke-width="1.3" />
<path d="M511.20,313.40 L511.20,319.60 L512.10,320.50 L512.20,333.80 L512.90,333.80 L513.20,324.00 L513.40,340.70 L514.80,340.70 L515.10,327.00 L515.50,327.90 L516.40,327.90 L516.90,313.40 Z" fill="#1f78c1" opacity="1"/>
<path d="M513.60,318.50 L515.40,317.50 L515.20,324.00 L514.30,325.90 Z" fill="#dcd3ee" opacity="1"/>
<path d="M515.80,313.40 L516.50,315.90 L519.20,315.90 L519.80,319.50 L520.60,319.50 L521.20,315.90 L522.20,315.00 L522.50,313.40 Z" fill="#0b3a66" opacity="1"/>
<path d="M525.60,313.40 L525.80,317.70 L528.00,317.70 L528.20,315.90 L533.70,315.90 L533.90,313.40 Z" fill="#1f78c1" opacity="1"/>
<path d="M522.50,313.40 L522.50,314.80 L525.60,314.80 L525.60,313.40 Z" fill="#0b3a66" opacity="1"/>
<line x1="533.70" y1="315.20" x2="541.00" y2="315.20" stroke="#8fbde0" stroke-width="0.8" />
<rect x="533" y="313.4" width="70" height="1.3" fill="#0b3a66" opacity="0.8"/>
<line x1="485.00" y1="313.40" x2="650.00" y2="313.40" stroke="#1d4f7c" stroke-width="1.3" />
<path d="M48.20,458.90 C71.47,458.90 94.73,458.90 118.00,458.90 C119.33,458.90 120.67,458.42 122.00,458.10 C122.80,457.91 123.60,457.40 124.40,457.40 C125.60,457.40 126.80,458.10 128.00,458.30 C129.67,458.58 131.33,458.90 133.00,458.90 C155.37,458.90 177.73,458.90 200.10,458.90" fill="none" stroke="#2e9a2e" stroke-width="1.5" stroke-linejoin="round" stroke-linecap="round" />
<polyline points="104.00,458.90 105.00,445.00 106.50,427.20 108.20,425.90 109.50,428.00 110.70,407.30 112.50,417.20 114.50,399.90 115.20,394.40 117.00,399.90 119.40,412.30 123.20,425.90 124.40,417.20 125.60,425.90 128.10,428.40 131.80,438.30 135.60,447.00 139.30,453.20 144.20,456.90 149.20,458.20 155.40,458.90" fill="none" stroke="#f4511e" stroke-width="1.4" stroke-linejoin="round" stroke-linecap="round" />
<polyline points="48.20,456.90 49.54,456.97 50.88,457.12 52.22,457.45 53.56,457.43 54.90,457.48 56.14,457.62 57.38,457.53 58.61,457.71 59.85,457.93 61.09,458.21 62.32,458.03 63.56,458.10 64.80,458.06 66.04,458.43 67.28,458.62 68.51,458.39 69.75,458.80 70.99,459.06 72.22,459.07 73.46,459.08 74.70,458.85 75.95,458.60 77.20,458.74 78.45,458.56 79.70,458.52 80.95,458.53 82.20,458.41 83.45,458.59 84.70,458.68 86.01,459.01 87.32,459.05 88.63,459.16 89.94,459.16 91.25,459.28 92.56,459.25 93.87,459.16 95.18,459.52 96.49,459.76 97.80,459.84 99.60,452.38 100.80,448.42 102.50,450.92 103.30,453.04 105.00,453.66 107.00,414.65 108.80,407.71 110.70,417.34 112.70,435.82 114.00,393.97 114.50,393.26 115.75,396.33 117.00,399.70 118.20,407.41 119.40,414.75 120.67,419.96 121.93,424.75 123.20,429.43 124.80,434.17 126.40,438.94 127.80,438.02 129.20,437.08 130.60,436.35 131.83,437.04 133.07,437.48 134.30,437.51 135.55,438.51 136.80,439.46 138.05,440.45 139.30,441.90 140.53,442.51 141.75,443.39 142.97,444.15 144.20,444.77 145.45,444.49 146.70,443.79 147.95,444.08 149.20,444.01 150.45,444.18 151.70,444.23 152.95,444.33 154.20,444.84 155.45,445.10 156.70,445.02 157.94,445.33 159.17,445.18 160.41,445.23 161.65,445.55 162.89,445.67 164.12,445.48 165.36,445.90 166.60,445.76 167.84,445.85 169.07,446.28 170.31,446.38 171.55,446.50 172.79,446.53 174.03,446.65 175.26,447.08 176.50,447.23 177.74,447.59 178.98,447.77 180.22,447.99 181.46,448.49 182.70,448.61 183.94,448.81 185.18,449.17 186.42,449.08 187.66,449.10 188.90,449.61 190.14,449.82 191.39,449.66 192.63,449.56 193.88,449.84 195.12,450.15 196.37,449.96 197.61,450.29 198.86,450.48 200.10,450.20" fill="none" stroke="#1c1c78" stroke-width="1.5" stroke-linejoin="round" stroke-linecap="round" />
<path d="M253.76,443.07 C282.96,443.07 312.15,443.07 341.35,443.07 C341.93,443.07 342.52,441.98 343.10,440.73 C343.69,439.48 344.27,431.39 344.85,431.39 C345.44,431.39 346.02,431.73 346.61,431.97 C347.77,432.45 348.94,433.50 350.11,434.01 C354.00,435.73 357.90,436.60 361.79,437.81 C365.68,439.02 369.57,440.63 373.47,441.31 C377.36,442.00 381.25,442.61 385.15,442.77 C389.04,442.94 392.93,443.07 396.82,443.07 C408.02,443.07 419.21,443.07 430.40,443.07" fill="none" stroke="#2e9a2e" stroke-width="1.5" stroke-linejoin="round" stroke-linecap="round" />
<polyline points="313.03,442.77 315.07,355.18 315.95,363.36 316.53,366.28 317.41,360.44 318.58,370.66 319.45,364.82 320.33,375.04 321.50,369.20 322.37,380.88 323.25,376.50 324.42,386.72 325.29,383.80 326.75,394.01" fill="none" stroke="#f4511e" stroke-width="1.4" stroke-linejoin="round" stroke-linecap="round" />
<path d="M326.75,394.01 C327.73,395.67 328.70,397.54 329.67,398.98 C330.64,400.41 331.62,401.43 332.59,402.77 C334.54,405.46 336.48,408.88 338.43,411.53 C340.38,414.19 342.32,416.67 344.27,418.83 C346.22,420.99 348.16,422.73 350.11,424.67 C352.06,426.62 354.00,428.84 355.95,430.51 C357.90,432.18 359.84,433.43 361.79,434.89 C363.73,436.35 365.68,438.25 367.63,439.27 C369.57,440.29 371.52,441.20 373.47,441.61 C376.39,442.21 379.31,442.40 382.23,442.77 C383.00,442.87 383.78,442.97 384.56,443.07" fill="none" stroke="#f4511e" stroke-width="1.4" stroke-linejoin="round" stroke-linecap="round" />
<polyline points="253.76,440.73 254.97,440.61 256.18,440.76 257.38,440.75 258.59,440.92 259.80,441.06 261.01,440.80 262.22,440.63 263.42,441.08 264.63,441.00 265.84,440.95 267.05,441.43 268.26,441.40 269.47,441.64 270.67,441.57 271.88,441.66 273.09,441.42 274.30,441.60 275.51,441.88 276.71,441.85 277.92,441.99 279.13,442.05 280.34,441.71 281.55,441.98 282.75,442.05 283.96,441.93 285.17,441.70 286.38,442.12 287.59,442.14 288.80,442.33 290.03,442.55 291.26,442.59 292.49,442.75 293.72,442.53 294.95,442.67 296.18,442.53 297.41,442.78 298.64,442.91 299.87,442.49 301.10,442.28 302.33,442.22 303.56,442.68 304.79,442.62 306.02,442.72 307.25,442.59 308.48,442.65 309.71,442.63 310.94,442.60 312.17,442.75 313.40,442.85 314.64,443.12 315.87,443.16 317.10,443.35 318.33,443.44 319.56,443.58 320.79,443.48 322.02,443.10 323.25,443.34 324.42,398.86 326.75,390.17 328.21,386.47 329.67,384.74 332.01,388.20 333.25,391.79 334.49,396.15 335.73,400.46 336.97,403.94 338.43,407.79 339.89,411.14 341.35,412.94 342.81,414.56 344.27,415.52 345.73,416.21 347.19,417.12 348.44,418.26 349.69,419.32 350.94,419.75 352.19,420.68 353.45,421.21 354.70,422.31 355.95,423.08 357.41,424.50 358.87,425.94 360.33,426.91 361.79,428.06 363.04,428.39 364.29,428.65 365.54,429.33 366.79,429.54 368.04,429.93 369.30,430.44 370.55,430.99 371.76,431.14 372.98,431.29 374.20,432.02 375.41,432.22 376.63,432.86 377.85,433.30 379.06,433.32 380.28,433.46 381.50,433.65 382.71,433.89 383.93,434.04 385.15,434.13 386.35,434.25 387.55,434.54 388.75,434.46 389.95,434.39 391.16,434.54 392.36,434.34 393.56,434.28 394.76,434.69 395.97,434.66 397.17,434.67 398.37,434.35 399.57,434.43 400.78,434.61 401.98,434.37 403.18,434.64 404.38,434.83 405.58,434.61 406.82,434.88 408.07,434.97 409.31,435.20 410.55,435.16 411.79,435.41 413.03,435.62 414.27,435.33 415.51,435.23 416.75,435.60 417.99,436.05 419.23,435.92 420.47,436.01 421.72,436.20 422.96,436.18 424.20,436.25 425.44,436.30 426.68,436.41 427.92,436.66 429.16,436.66 430.40,436.93" fill="none" stroke="#1c1c78" stroke-width="1.5" stroke-linejoin="round" stroke-linecap="round" />
<path d="M485.18,466.13 C499.59,466.13 513.99,466.13 528.39,466.13 C528.88,466.13 529.37,460.54 529.85,456.79 C530.54,451.54 531.22,440.69 531.90,436.35 C532.68,431.39 533.45,425.55 534.23,425.55 C536.18,425.55 538.13,431.09 540.07,431.09 C542.51,431.09 544.94,426.72 547.37,426.72 C549.81,426.72 552.24,432.78 554.67,436.35 C557.59,440.64 560.51,450.95 563.43,450.95 C566.35,450.95 569.27,448.61 572.19,448.61 C575.11,448.61 578.03,453.04 580.95,455.33 C583.38,457.23 585.82,461.17 588.25,461.17 C590.68,461.17 593.11,458.25 595.55,458.25 C598.47,458.25 601.39,461.61 604.31,462.63 C607.23,463.64 610.15,464.59 613.07,464.96 C617.93,465.59 622.80,466.13 627.66,466.13 C633.50,466.13 639.34,464.96 645.18,464.96 C646.64,464.96 648.10,465.35 649.56,465.55" fill="none" stroke="#2e9a2e" stroke-width="1.5" stroke-linejoin="round" stroke-linecap="round" />
<path d="M521.09,466.13 C521.58,438.69 522.07,396.71 522.55,383.80 C522.85,376.05 523.14,372.02 523.43,367.74 C523.63,364.88 523.82,360.44 524.01,360.44 C524.50,360.44 524.99,364.98 525.47,366.28 C525.96,367.58 526.45,367.90 526.93,369.20 C527.62,371.02 528.30,375.49 528.98,377.96 C529.76,380.78 530.54,384.57 531.31,385.26 C532.29,386.12 533.26,386.72 534.23,386.72 C535.01,386.72 535.79,383.13 536.57,382.34 C537.25,381.64 537.93,380.88 538.61,380.88 C540.07,380.88 541.53,383.52 542.99,385.26 C544.94,387.57 546.89,391.68 548.83,394.01 C550.78,396.35 552.73,397.16 554.67,399.85 C556.62,402.55 558.56,408.61 560.51,412.99 C562.46,417.37 564.40,421.75 566.35,426.13 C568.30,430.51 570.24,435.77 572.19,439.27 C574.14,442.77 576.08,446.51 578.03,448.03 C580.27,449.78 582.51,451.53 584.74,451.53 C585.91,451.53 587.08,446.61 588.25,445.11 C589.22,443.86 590.19,442.19 591.17,442.19 C592.63,442.19 594.09,446.35 595.55,448.03 C597.49,450.27 599.44,452.02 601.39,453.87 C603.33,455.71 605.28,457.59 607.23,459.12 C609.17,460.66 611.12,462.22 613.07,463.21 C615.01,464.20 616.96,465.24 618.91,465.55 C620.85,465.86 622.80,466.13 624.74,466.13 C625.72,466.13 626.69,456.79 627.66,456.79 C628.93,456.79 630.19,459.71 631.46,459.71 C632.92,459.71 634.38,455.91 635.84,455.91 C637.98,455.91 640.12,456.87 642.26,457.66 C644.70,458.57 647.13,460.58 649.56,462.04" fill="none" stroke="#f4511e" stroke-width="1.4" stroke-linejoin="round" stroke-linecap="round" />
<polyline points="485.18,464.96 486.46,464.99 487.73,464.97 489.00,464.83 490.28,465.24 491.55,464.95 492.83,465.12 494.10,465.49 495.37,465.21 496.65,465.37 497.92,465.53 499.20,465.27 500.41,465.36 501.63,465.64 502.85,465.68 504.06,465.91 505.28,465.70 506.50,465.66 507.71,465.57 508.93,465.79 510.15,466.20 511.36,466.24 512.58,466.38 513.80,466.21 515.05,466.34 516.30,466.00 517.55,465.92 518.80,466.12 520.05,466.27 521.30,466.16 522.55,465.89 524.89,462.33 526.06,427.23 527.23,383.44 528.39,372.10 529.85,367.83 531.61,367.86 533.65,370.98 535.69,379.32 537.09,383.67 538.50,387.46 539.90,390.53 541.23,393.60 542.55,396.72 543.88,398.95 545.21,401.35 546.44,403.00 547.66,404.70 549.71,406.78 550.99,407.48 552.27,408.09 553.55,408.82 554.83,409.88 556.11,410.54 557.39,411.37 558.65,412.53 559.91,413.93 561.17,414.86 562.43,415.82 563.69,416.96 564.94,417.69 566.20,418.80 567.45,419.58 568.69,420.72 569.93,422.00 571.18,422.56 572.42,423.55 573.66,424.47 574.91,425.00 576.15,425.64 577.39,426.74 578.63,427.65 579.88,427.86 581.12,428.55 582.36,429.31 583.61,429.45 584.86,429.93 586.12,429.99 587.37,430.36 588.63,430.90 589.88,431.28 591.14,431.73 592.39,431.65 593.65,431.87 594.90,432.42 596.15,432.66 597.40,432.80 598.65,432.93 599.90,433.47 601.15,433.60 602.40,433.39 603.66,433.84 604.91,433.88 606.16,434.03 607.41,434.05 608.66,434.27 609.91,434.38 611.16,434.36 612.40,434.76 613.64,434.72 614.88,435.19 616.13,435.04 617.37,435.49 618.61,435.83 619.86,435.89 621.10,436.10 622.34,435.98 623.58,436.26 624.83,436.26 626.07,436.17 627.31,436.61 628.58,436.54 629.84,436.51 631.11,436.83 632.37,436.73 633.64,436.88 634.91,436.67 636.17,437.00 637.44,436.84 638.70,436.63 639.97,437.11 641.23,436.91 642.50,437.30 643.76,437.58 645.03,437.52 646.29,437.13 647.56,436.94 648.82,436.95 650.09,437.40" fill="none" stroke="#1c1c78" stroke-width="1.5" stroke-linejoin="round" stroke-linecap="round" />
<line x1="211.00" y1="497.50" x2="222.80" y2="497.50" stroke="#2e9a2e" stroke-width="1.5" />
<text x="229.80" y="500.80" font-size="9.5" fill="#000" text-anchor="start" >Pre−Fire Model</text>
<line x1="301.60" y1="497.50" x2="313.90" y2="497.50" stroke="#f4511e" stroke-width="1.5" />
<text x="320.50" y="500.80" font-size="9.5" fill="#000" text-anchor="start" >Post−Fire Model</text>
<line x1="398.00" y1="497.50" x2="409.40" y2="497.50" stroke="#1c1c78" stroke-width="1.5" />
<text x="415.50" y="500.80" font-size="9.5" fill="#000" text-anchor="start" >Observed Flow</text>
</svg></body></html>
